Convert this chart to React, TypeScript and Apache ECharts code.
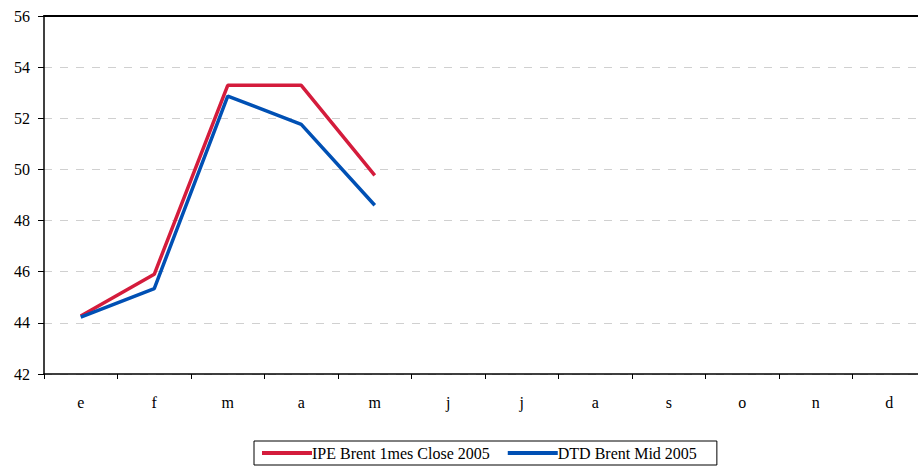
import React, { useEffect, useRef } from "react";
import * as echarts from "echarts";

const categories = ["e", "f", "m", "a", "m", "j", "j", "a", "s", "o", "n", "d"];
const ipeBrent = [44.27, 45.9, 53.29, 53.29, 49.77, null, null, null, null, null, null, null];
const dtdBrent = [44.22, 45.34, 52.87, 51.76, 48.6, null, null, null, null, null, null, null];
const seriesNames = ["IPE Brent 1mes Close 2005", "DTD Brent Mid 2005"];

export default function App() {
  const ref = useRef<HTMLDivElement>(null);
  useEffect(() => {
    if (!ref.current) return;
    const chart = echarts.init(ref.current, undefined, { renderer: "svg" });
    const font = "Liberation Serif";
    chart.setOption({
      animation: false,
      textStyle: { fontFamily: font },
      grid: {
        left: 44,
        width: 882,
        top: 16,
        height: 358,
        show: false,
        outerBoundsMode: "none",
        containLabel: false,
      },
      legend: {
        left: 254,
        top: 441,
        padding: [4, 20, 4, 8],
        borderColor: "#000",
        borderWidth: 1,
        itemWidth: 50,
        itemHeight: 4,
        itemGap: 18,
        icon: "rect",
        textStyle: { fontFamily: font, fontSize: 16, color: "#000", padding: [0, 0, 0, -5] },
        data: seriesNames,
      },
      xAxis: [
        {
          type: "category",
          data: categories,
          boundaryGap: true,
          axisLine: { show: true, lineStyle: { color: "#000", width: 1.5 } },
          axisTick: { show: true, length: 5, lineStyle: { color: "#000" }, alignWithLabel: false },
          axisLabel: { color: "#000", fontSize: 16, margin: 20, fontFamily: font },
          splitLine: { show: false },
        },
        {
          type: "category",
          position: "top",
          data: categories,
          axisLine: { show: true, lineStyle: { color: "#000", width: 2 } },
          axisTick: { show: false },
          axisLabel: { show: false },
          splitLine: { show: false },
        },
      ],
      yAxis: {
        type: "value",
        min: 42,
        max: 56,
        interval: 2,
        axisLine: { show: true, lineStyle: { color: "#000", width: 1.5 } },
        axisTick: { show: true, length: 6, lineStyle: { color: "#000" } },
        axisLabel: { color: "#000", fontSize: 16, margin: 14, fontFamily: font },
        splitLine: { show: true, lineStyle: { color: "#d0d0d0", type: [8, 8], width: 1 } },
      },
      series: [
        {
          name: seriesNames[0],
          type: "line",
          data: ipeBrent,
          symbol: "none",
          connectNulls: false,
          lineStyle: { color: "#D41C3C", width: 3.5 },
          itemStyle: { color: "#D41C3C" },
        },
        {
          name: seriesNames[1],
          type: "line",
          data: dtdBrent,
          symbol: "none",
          connectNulls: false,
          lineStyle: { color: "#0050B4", width: 3.5 },
          itemStyle: { color: "#0050B4" },
        },
      ],
    });
    return () => chart.dispose();
  }, []);
  return <div ref={ref} style={{ width: 918, height: 470, position: "absolute", left: 0, top: 0 }} />;
}
